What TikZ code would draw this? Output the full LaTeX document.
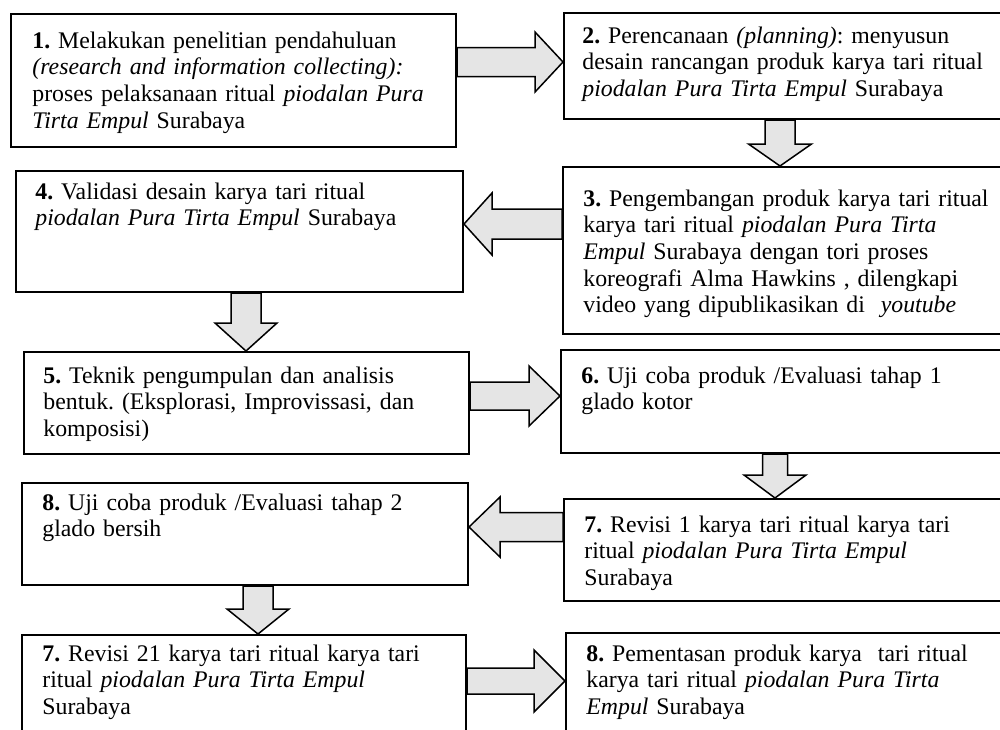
\documentclass[tikz,border=0pt]{standalone}
\usepackage{fontspec}
\setmainfont{Liberation Serif}
\usetikzlibrary{calc}
\frenchspacing
\tikzset{
  box/.style={draw=black, line width=1pt, fill=white, inner sep=0pt, anchor=north west},
  txt/.style={inner sep=0pt, anchor=base west, text width=235pt, align=left,
    font=\fontsize{11.9}{13.35}\selectfont\frenchspacing},
  barrow/.style={draw=black, line width=0.75pt, fill=black!10, line join=miter}
}
\newcommand\rarr[5]{\draw[barrow] let \p1=(#1), \p2=(#2) in
  (\x1,\y1+#3) -- (\x2-#5,\y1+#3) -- (\x2-#5,\y1+#4) -- (\x2,\y1) --
  (\x2-#5,\y1-#4) -- (\x2-#5,\y1-#3) -- (\x1,\y1-#3) -- cycle;}
\newcommand\larr[5]{\draw[barrow] let \p1=(#1), \p2=(#2) in
  (\x1,\y1+#3) -- (\x2+#5,\y1+#3) -- (\x2+#5,\y1+#4) -- (\x2,\y1) --
  (\x2+#5,\y1-#4) -- (\x2+#5,\y1-#3) -- (\x1,\y1-#3) -- cycle;}
\newcommand\darr[5]{\draw[barrow] let \p1=(#1), \p2=(#2) in
  (\x1-#3,\y1) -- (\x1-#3,\y2+#5) -- (\x1-#4,\y2+#5) -- (\x1,\y2) --
  (\x1+#4,\y2+#5) -- (\x1+#3,\y2+#5) -- (\x1+#3,\y1) -- cycle;}
\begin{document}
\begin{tikzpicture}[x=0.5pt,y=-0.5pt]
\useasboundingbox (0,0) rectangle (1000,729);
\clip (0,0) rectangle (1000,729);
\fill[white] (0,0) rectangle (1000,729);
% boxes
\node[box, minimum width=222.5pt, minimum height=66.5pt] (B1) at (10,13) {};
\node[box, minimum width=225pt, minimum height=53pt] (B2) at (563,12) {};
\node[box, minimum width=225pt, minimum height=83.5pt] (B3) at (562,166) {};
\node[box, minimum width=223.5pt, minimum height=60.5pt] (B4) at (15,170) {};
\node[box, minimum width=222.5pt, minimum height=51pt] (B5) at (23,351) {};
\node[box, minimum width=225pt, minimum height=51.5pt] (B6) at (560,349) {};
\node[box, minimum width=225pt, minimum height=51pt] (B7) at (563,498) {};
\node[box, minimum width=223pt, minimum height=51pt] (B8) at (21,482) {};
\node[box, minimum width=222pt, minimum height=60pt] (B9) at (21,634) {};
\node[box, minimum width=225pt, minimum height=60pt] (B10) at (565,632) {};
% texts
\node[txt] (t1) at (32,48) {\textbf{1.} Melakukan penelitian pendahuluan\\ \textit{(research and information collecting):}\\ proses pelaksanaan ritual \textit{piodalan Pura}\\ \textit{Tirta Empul} Surabaya};
\node[txt] (t2) at (582,43) {\textbf{2.} Perencanaan \textit{(planning)}: menyusun\\ desain rancangan produk karya tari ritual\\ \textit{piodalan Pura Tirta Empul} Surabaya};
\node[txt] (t3) at (583,206) {\textbf{3.} Pengembangan produk karya tari ritual\\ karya tari ritual \textit{piodalan Pura Tirta}\\ \textit{Empul} Surabaya dengan tori proses\\ koreografi Alma Hawkins , dilengkapi\\ video yang dipublikasikan di \ \textit{youtube}};
\node[txt] (t4) at (35,199) {\textbf{4.} Validasi desain karya tari ritual\\ \textit{piodalan Pura Tirta Empul} Surabaya};
\node[txt] (t5) at (43,383) {\textbf{5.} Teknik pengumpulan dan analisis\\ bentuk. (Eksplorasi, Improvissasi, dan\\ komposisi)};
\node[txt] (t6) at (581,383) {\textbf{6.} Uji coba produk /Evaluasi tahap 1\\ glado kotor};
\node[txt] (t7) at (584,532) {\textbf{7.} Revisi 1 karya tari ritual karya tari\\ ritual \textit{piodalan Pura Tirta Empul}\\ Surabaya};
\node[txt] (t8) at (42,510) {\textbf{8.} Uji coba produk /Evaluasi tahap 2\\ glado bersih};
\node[txt] (t9) at (42,661) {\textbf{7.} Revisi 21 karya tari ritual karya tari\\ ritual \textit{piodalan Pura Tirta Empul}\\ Surabaya};
\node[txt] (t10) at (586,661) {\textbf{8.} Pementasan produk karya \ tari ritual\\ karya tari ritual \textit{piodalan Pura Tirta}\\ \textit{Empul} Surabaya};
% arrow anchor coordinates
\coordinate (a12s) at (B1.east |- 0,62);
\coordinate (a12t) at (B2.west |- 0,62);
\coordinate (a23s) at (B2.south -| 780,0);
\coordinate (a23t) at (B3.north -| 780,0);
\coordinate (a34s) at (B3.west |- 0,224);
\coordinate (a34t) at (B4.east |- 0,224);
\coordinate (a45s) at (B4.south -| 246,0);
\coordinate (a45t) at (B5.north -| 246,0);
\coordinate (a56s) at (B5.east |- 0,396);
\coordinate (a56t) at (B6.west |- 0,396);
\coordinate (a67s) at (B6.south -| 775,0);
\coordinate (a67t) at (B7.north -| 775,0);
\coordinate (a78s) at (B7.west |- 0,527);
\coordinate (a78t) at (B8.east |- 0,527);
\coordinate (a89s) at (B8.south -| 258,0);
\coordinate (a89t) at (B9.north -| 258,0);
\coordinate (a910s) at (B9.east |- 0,681);
\coordinate (a910t) at (B10.west |- 0,681);
% block arrows
\rarr{a12s}{a12t}{7.25pt}{15pt}{14pt}
\darr{a23s}{a23t}{7.5pt}{15.75pt}{11pt}
\larr{a34s}{a34t}{7.5pt}{15.5pt}{14pt}
\darr{a45s}{a45t}{7.5pt}{15.5pt}{14pt}
\rarr{a56s}{a56t}{7pt}{15pt}{15.5pt}
\darr{a67s}{a67t}{6.25pt}{15.5pt}{11.5pt}
\larr{a78s}{a78t}{7.25pt}{15pt}{15.5pt}
\darr{a89s}{a89t}{7.5pt}{15.5pt}{12.5pt}
\rarr{a910s}{a910t}{6.5pt}{15.5pt}{15.5pt}
\end{tikzpicture}
\end{document}
